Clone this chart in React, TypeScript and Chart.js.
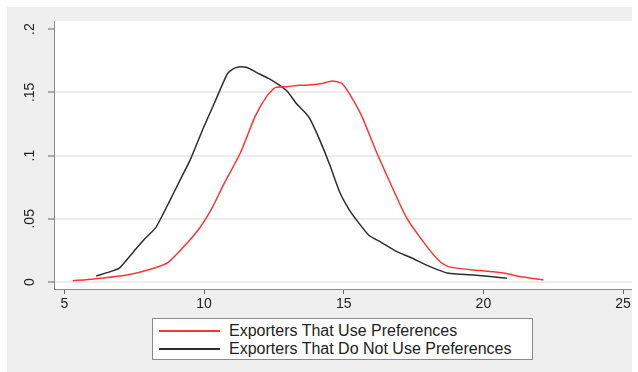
import React, { useEffect, useRef } from "react";
import { Chart, registerables } from "chart.js";

Chart.register(...registerables);

const usePrefX = [5.3, 6.04, 7.25, 8.08, 8.72, 9.39, 9.87, 10.3, 10.7, 11.3, 11.83, 12.25, 12.55, 12.97, 13.44, 13.78, 14.22, 14.58, 14.94, 15.23, 15.65, 16.19, 16.72, 17.26, 17.98, 18.45, 18.75, 19.64, 20.36, 20.78, 21.2, 22.15];
const usePrefY = [0.001, 0.0024, 0.0056, 0.0101, 0.0156, 0.0307, 0.0435, 0.059, 0.077, 0.102, 0.131, 0.147, 0.1537, 0.1545, 0.1556, 0.1558, 0.1569, 0.159, 0.1569, 0.148, 0.131, 0.102, 0.0757, 0.0505, 0.028, 0.0161, 0.0122, 0.0095, 0.0082, 0.0069, 0.0048, 0.0016];

const noPrefX = [6.14, 6.76, 7.0, 7.48, 7.84, 8.26, 8.55, 8.79, 9.15, 9.51, 9.98, 10.4, 10.82, 11.0, 11.24, 11.54, 11.89, 12.31, 12.67, 12.97, 13.33, 13.62, 13.8, 14.16, 14.52, 14.87, 15.2, 15.41, 15.9, 16.3, 16.9, 17.38, 18.09, 18.75, 19.64, 20.84];
const noPrefY = [0.0048, 0.009, 0.0116, 0.024, 0.0333, 0.0426, 0.0545, 0.065, 0.081, 0.0968, 0.122, 0.143, 0.164, 0.168, 0.17, 0.1696, 0.1656, 0.161, 0.156, 0.151, 0.1405, 0.134, 0.1286, 0.1114, 0.0915, 0.0704, 0.057, 0.0505, 0.037, 0.032, 0.024, 0.0196, 0.0122, 0.0069, 0.0056, 0.003];

const xTickValues = [5, 10, 15, 20, 25];
const yTickValues = [0, 0.05, 0.1, 0.15, 0.2];
const yTickLabels = ["0", ".05", ".1", ".15", ".2"];

const seriesNames = ["Exporters That Use Preferences", "Exporters That Do Not Use Preferences"];
const seriesColors = ["#ff3535", "#2e2e2e"];

const FONT = "'Liberation Sans', Arial, sans-serif";

export default function App() {
  const ref = useRef<HTMLCanvasElement | null>(null);

  useEffect(() => {
    if (!ref.current) return;
    const zip = (xs: number[], ys: number[]) => xs.map((x, i) => ({ x, y: ys[i] }));
    const chart = new Chart(ref.current, {
      type: "scatter",
      data: {
        datasets: [
          {
            label: seriesNames[0],
            data: zip(usePrefX, usePrefY),
            showLine: true,
            borderColor: seriesColors[0],
            borderWidth: 1.5,
            pointRadius: 0,
            tension: 0.2,
          },
          {
            label: seriesNames[1],
            data: zip(noPrefX, noPrefY),
            showLine: true,
            borderColor: seriesColors[1],
            borderWidth: 1.5,
            pointRadius: 0,
            tension: 0.2,
          },
        ],
      },
      options: {
        animation: false,
        responsive: false,
        maintainAspectRatio: false,
        layout: { padding: { top: 14, left: 0, right: 0, bottom: 0 } },
        plugins: { legend: { display: false }, tooltip: { enabled: false } },
        scales: {
          x: {
            type: "linear",
            min: 4.63,
            max: 25.32,
            afterBuildTicks: (s: any) => {
              s.ticks = xTickValues.map((v) => ({ value: v }));
            },
            afterFit: (s: any) => {
              s.height = 83;
              s.paddingLeft = 0;
              s.paddingRight = 0;
            },
            grid: {
              display: true,
              drawOnChartArea: false,
              drawTicks: true,
              tickLength: 5,
              tickColor: "#666",
              tickWidth: 1,
            },
            border: { display: true, color: "#8a8a8a", width: 1 },
            ticks: {
              color: "#222",
              font: { family: FONT, size: 14 },
              padding: 2,
              maxRotation: 0,
              minRotation: 0,
            },
          },
          y: {
            type: "linear",
            min: -0.0055,
            max: 0.2064,
            afterBuildTicks: (s: any) => {
              s.ticks = yTickValues.map((v) => ({ value: v }));
            },
            afterFit: (s: any) => {
              s.width = 47;
              s.paddingTop = 0;
              s.paddingBottom = 0;
            },
            grid: {
              color: (ctx: any) =>
                ctx.tick && Math.abs(ctx.tick.value - 0.2) < 1e-9 ? "rgba(0,0,0,0)" : "#ececec",
              lineWidth: 2,
              drawTicks: true,
              tickLength: 6,
              tickColor: "#666",
              tickWidth: 1,
            },
            border: { display: true, color: "#8a8a8a", width: 1 },
            ticks: {
              color: "#222",
              font: { family: FONT, size: 14 },
              padding: 8,
              minRotation: 90,
              maxRotation: 90,
              crossAlign: "center",
              callback: (v: any) => {
                const i = yTickValues.findIndex((t) => Math.abs(t - Number(v)) < 1e-9);
                return i >= 0 ? yTickLabels[i] : "";
              },
            },
          },
        },
      },
    });
    return () => chart.destroy();
  }, []);

  return (
    <div
      style={{
        position: "absolute",
        left: 7,
        top: 7,
        width: 625,
        height: 365,
        background: "#efefef",
      }}
    >
      <div
        style={{
          position: "absolute",
          left: 47,
          top: 14,
          width: 578,
          height: 268,
          background: "#ffffff",
        }}
      />
      <canvas
        ref={ref}
        width={625}
        height={365}
        style={{ position: "absolute", left: 0, top: 0, width: 625, height: 365 }}
      />
      <div
        style={{
          position: "absolute",
          left: 145,
          top: 311,
          width: 379,
          height: 40,
          border: "1px solid #8a8a8a",
          background: "#ffffff",
          fontFamily: FONT,
          fontSize: 16,
          color: "#222",
        }}
      >
        {seriesNames.map((name, i) => (
          <div
            key={name}
            style={{
              position: "absolute",
              left: 0,
              top: 3 + i * 18,
              height: 18,
              display: "flex",
              alignItems: "center",
              whiteSpace: "nowrap",
            }}
          >
            <div
              style={{
                marginLeft: 6,
                width: 61,
                height: 2,
                background: seriesColors[i],
                flex: "none",
              }}
            />
            <span style={{ marginLeft: 9, lineHeight: "18px" }}>{name}</span>
          </div>
        ))}
      </div>
    </div>
  );
}
